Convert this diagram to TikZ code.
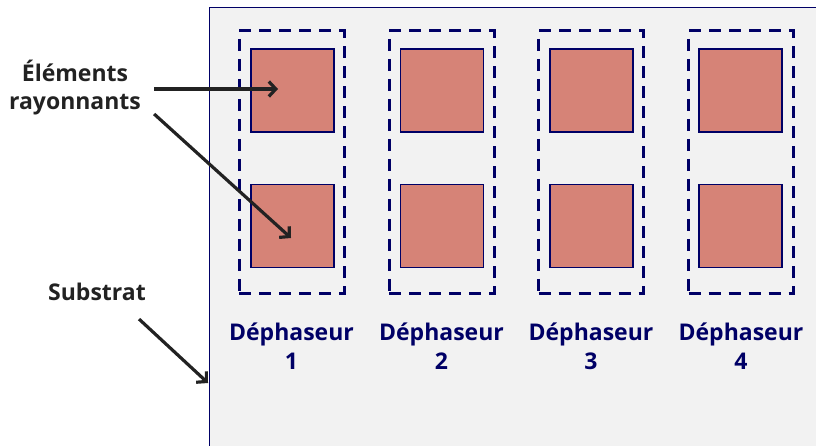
\documentclass[tikz,border=0pt]{standalone}
\usepackage{fontspec}
\setmainfont{Open Sans}
\usetikzlibrary{arrows.meta,positioning}
\definecolor{PhNavy}{HTML}{000066}
\definecolor{PhPatch}{HTML}{D68377}
\definecolor{PhSub}{HTML}{F2F2F2}
\definecolor{PhInk}{HTML}{222222}

\begin{document}
\begin{tikzpicture}[x=1pt,y=-1pt,
    substrat/.style={
      draw=PhNavy,
      fill=PhSub,
      line width=1pt,
      inner sep=0pt,
      minimum width=612pt,
      minimum height=444pt,
      anchor=north west
    },
    phbox/.style={
      draw=PhNavy,
      line width=3pt,
      dash pattern=on 12pt off 8pt,
      minimum width=105pt,
      minimum height=262pt,
      inner sep=0pt
    },
    patch/.style={
      draw=PhNavy,
      fill=PhPatch,
      line width=1.2pt,
      minimum size=83pt,
      inner sep=0pt
    },
    phlabel/.style={
      font=\bfseries\fontsize{23}{29}\selectfont,
      text=PhNavy,
      align=center,
      inner sep=0pt
    },
    callout/.style={
      font=\bfseries\fontsize{23}{28}\selectfont,
      text=PhInk,
      align=center,
      inner sep=0pt
    },
    pointer/.style={
      draw=PhInk,
      line width=3.2pt,
      -{Straight Barb[length=7pt,width=15pt]}
    }]

    \useasboundingbox (0,0) rectangle (816,446);

    % Substrate
    \node[substrat] (subst) at (209,7) {};

    % Phase shifter 1
    \node[phbox] (b1) at (291.5,162) {};
    \node[patch] (e11) at (292.5,90.5) {};
    \node[patch] (e12) at (292.5,226) {};
    \node[phlabel] (l1) at (291.5,346) {Déphaseur\\1};

    % Phase shifter 2
    \node[phbox] (b2) at (441.5,162) {};
    \node[patch] (e21) at (442,90.5) {};
    \node[patch] (e22) at (442,226) {};
    \node[phlabel] (l2) at (441.5,346) {Déphaseur\\2};

    % Phase shifter 3
    \node[phbox] (b3) at (591,162) {};
    \node[patch] (e31) at (591.5,90.5) {};
    \node[patch] (e32) at (591.5,226) {};
    \node[phlabel] (l3) at (591,346) {Déphaseur\\3};

    % Phase shifter 4
    \node[phbox] (b4) at (741,162) {};
    \node[patch] (e41) at (740.5,90.5) {};
    \node[patch] (e42) at (740.5,226) {};
    \node[phlabel] (l4) at (741,346) {Déphaseur\\4};

    % Callouts
    \node[callout] (elem) at (75,88) {Éléments\\rayonnants};
    \node[callout] (sub) at (97,292) {Substrat};

    \draw[pointer] ([xshift=13pt,yshift=-1pt]elem.east) -- ([xshift=-14.5pt,yshift=1.5pt]e11.center);
    \draw[pointer] ([xshift=13pt,yshift=-26pt]elem.east) -- ([xshift=-1.5pt,yshift=-12pt]e12.center);
    \draw[pointer] ([xshift=-7pt,yshift=-18pt]sub.south east) -- ([xshift=-1pt,yshift=-376pt]subst.north west);
  \end{tikzpicture}
\end{document}
